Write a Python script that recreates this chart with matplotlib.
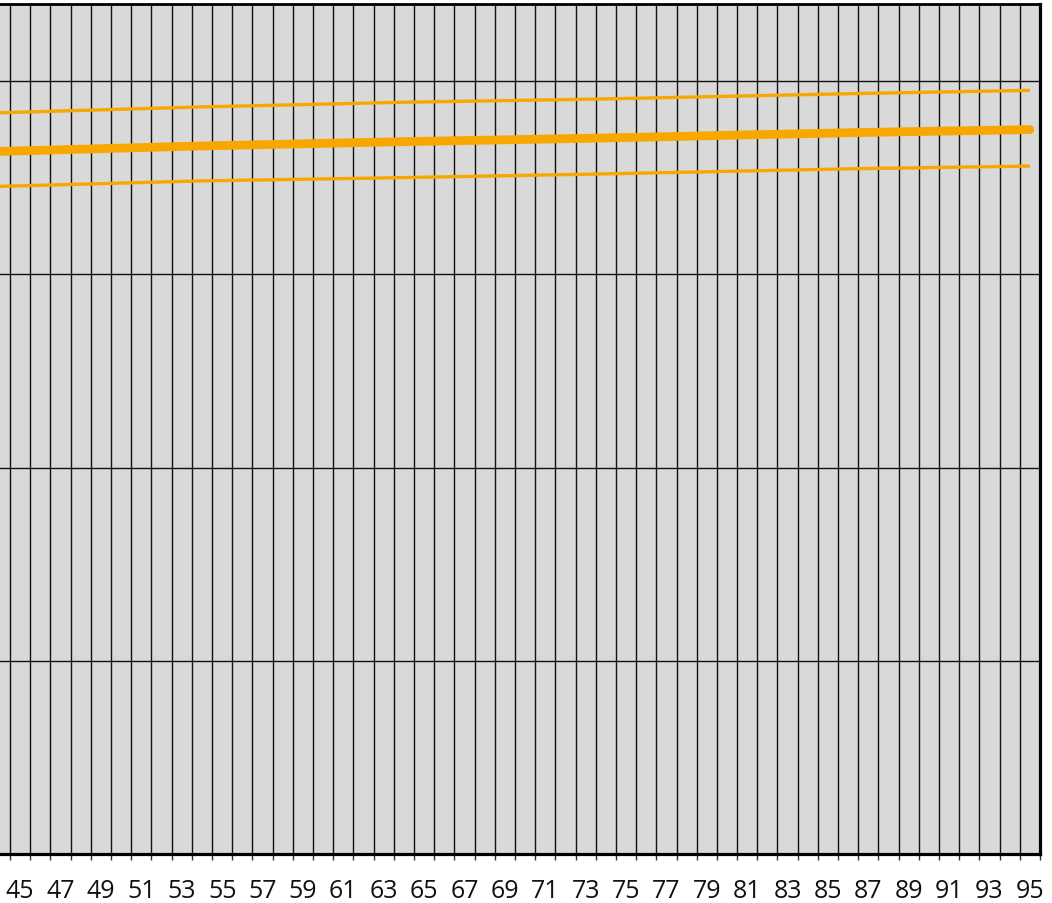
import matplotlib.pyplot as plt
import numpy as np

plt.rcParams['font.family'] = ['Open Sans', 'DejaVu Sans']

# ages (years) and curve values (grid units, 10 per gridline)
ages = [44.0, 53.9, 63.8, 73.7, 86.2, 95.0]
upper = [38.37, 38.67, 38.91, 39.08, 39.36, 39.53]
middle = [36.37, 36.65, 36.87, 37.06, 37.34, 37.50]
lower = [34.56, 34.84, 35.01, 35.20, 35.47, 35.61]

label_ages = list(range(45, 96, 2))
grid_y = [10, 20, 30, 40]

orange = '#f8a700'

fig = plt.figure(figsize=(10.52, 9.04), dpi=100)
ax = fig.add_axes([0.0, 49 / 904, 1040 / 1052, 850 / 904])
ax.set_facecolor('#d9d9d9')

ax.plot(ages, upper, color=orange, lw=2.4, solid_capstyle='butt')
ax.plot(ages, lower, color=orange, lw=2.4, solid_capstyle='butt')
ax.plot(ages, middle, color=orange, lw=6.3, solid_capstyle='round')

ax.set_xlim(44.0, 95.5)
ax.set_ylim(0, 44.0)

# one tick per year, on the year boundaries; labels centred on the years
ax.set_xticks(np.arange(44.5, 96, 1.0))
ax.set_xticklabels([])
ax.set_xticks(label_ages, minor=True)
ax.set_xticklabels([str(a) for a in label_ages], minor=True, fontsize=18)
ax.tick_params(axis='x', which='major', direction='out', length=4, width=1,
               color='#333333')
ax.tick_params(axis='x', which='minor', length=0, pad=17, labelcolor='#111111')

ax.set_yticks(grid_y)
ax.set_yticklabels([])
ax.tick_params(axis='y', length=0)

ax.grid(True, which='major', color='#111111', lw=1.0)
ax.set_axisbelow(True)

ax.spines['left'].set_visible(False)
ax.spines['top'].set_linewidth(2.0)
ax.spines['bottom'].set_linewidth(2.3)
ax.spines['right'].set_linewidth(2.3)

fig.savefig('out.png', dpi=100)
